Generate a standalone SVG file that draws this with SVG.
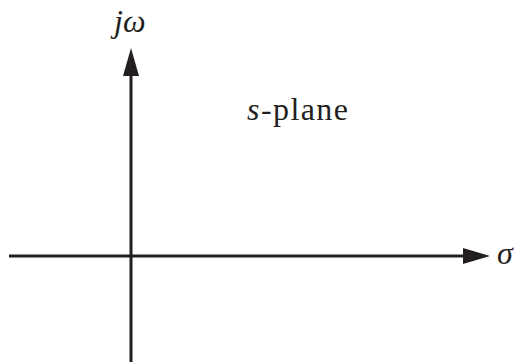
<svg xmlns="http://www.w3.org/2000/svg" width="514" height="362" viewBox="0 0 514 362">
<style>
.ax{stroke:#231f20;stroke-width:3;fill:none}
.ah{fill:#231f20}
.t{font-family:"Liberation Serif","Times New Roman","DejaVu Serif",serif;fill:#231f20;font-size:32px}
</style>
<rect width="514" height="362" fill="#fff"/>
<g id="connectors">
<line class="ax" x1="9" y1="256" x2="466" y2="256"/>
<polygon class="ah" points="490,256 463,248 463,264"/>
<line class="ax" x1="131" y1="362" x2="131" y2="72"/>
<polygon class="ah" points="131,48 123,76 139,76"/>
</g>
<g id="jw"><text class="t" x="114" y="32" font-style="italic">jω</text></g>
<g id="splane"><text class="t" x="247" y="120" textLength="101" lengthAdjust="spacing"><tspan font-style="italic">s</tspan>-plane</text></g>
<g id="sigma"><text class="t" x="497" y="264" font-style="italic">σ</text></g>
</svg>
